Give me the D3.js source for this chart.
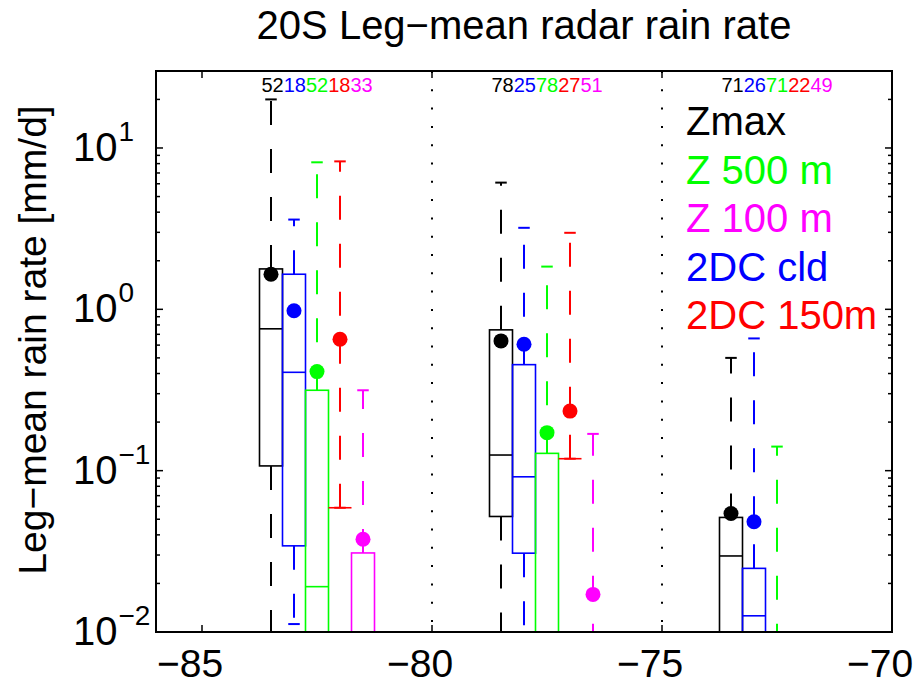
<!DOCTYPE html>
<html>
<head>
    <title>20S Leg-mean radar rain rate</title>
    <script src="https://d3js.org/d3.v7.min.js"></script>
    <style>
        body {
            margin: 0;
            background: #fff;
        }
        svg {
            display: block;
            font-family: "Liberation Sans", Arial, Helvetica, sans-serif;
        }
        .frame {
            fill: none;
            stroke: #000;
            stroke-width: 2px;
        }
        .tick-mark {
            stroke: #000;
            stroke-width: 1.5px;
        }
    </style>
</head>
<body>
<div id="chart"></div>
<script>
    // groups along longitude, one box per series in each group
    const groupLon = [-82.5, -77.5, -72.5];
    const seriesNames = ["Zmax", "2DC cld", "Z 500 m", "2DC 150m", "Z 100 m"];
    const seriesColors = ["#000000", "#0000ff", "#00ff00", "#ff0000", "#ff00ff"];
    const legendOrder = ["Zmax", "Z 500 m", "Z 100 m", "2DC cld", "2DC 150m"];
    const xTicks = [-85, -80, -75, -70];
    const yTicks = [0.01, 0.1, 1, 10];
    const yTickExp = ["\u22122", "\u22121", "0", "1"];

    // number of legs, [group][series]
    const counts = [
        [52, 18, 52, 18, 33],
        [78, 25, 78, 27, 51],
        [71, 26, 71, 22, 49]
    ];

    // box stats, [series][group]  (values under 0.01 fall below the axis)
    const whiskerHigh = [
        [20, 6.1, 0.5],
        [3.6, 3.2, 0.66],
        [8.15, 1.84, 0.141],
        [8.26, 2.98, 0.008],
        [0.315, 0.169, 0.007]
    ];
    const q3 = [
        [1.78, 0.746, 0.0513],
        [1.65, 0.454, 0.0248],
        [0.315, 0.128, 0.008],
        [0.0589, 0.1186, 0.005],
        [0.0309, 0.008, 0.005]
    ];
    const median = [
        [0.757, 0.125, 0.0296],
        [0.407, 0.0916, 0.0126],
        [0.0191, 0.008, 0.005],
        [0.0589, 0.1186, 0.005],
        [0.007, 0.005, 0.004]
    ];
    const q1 = [
        [0.107, 0.052, 0.008],
        [0.0342, 0.0308, 0.007],
        [0.006, 0.005, 0.003],
        [0.0589, 0.1186, 0.005],
        [0.004, 0.003, 0.002]
    ];
    const whiskerLow = [
        [0.003, 0.004, 0.003],
        [0.0112, 0.004, 0.003],
        [0.002, 0.002, 0.001],
        [0.0589, 0.1186, 0.005],
        [0.001, 0.001, 0.001]
    ];
    const meanRate = [
        [1.65, 0.637, 0.0543],
        [0.979, 0.608, 0.0482],
        [0.411, 0.172, 0.009],
        [0.653, 0.234, 0.006],
        [0.0376, 0.0171, 0.005]
    ];

    const width = 915, height = 684;
    const plotLeft = 156, plotRight = 892, plotTop = 71, plotBottom = 632;

    const svg = d3.select("#chart").append("svg")
        .attr("width", width)
        .attr("height", height);

    const x = d3.scaleLinear().domain([-86, -70]).range([plotLeft, plotRight]);
    const y = d3.scaleLog().domain([0.01, 30]).range([plotBottom, plotTop]);

    svg.append("clipPath").attr("id", "plot-clip")
        .append("rect")
        .attr("x", plotLeft).attr("y", plotTop)
        .attr("width", plotRight - plotLeft).attr("height", plotBottom - plotTop);

    // dotted separators
    svg.append("g").selectAll("line")
        .data([-80, -75])
        .join("line")
        .attr("x1", d => x(d)).attr("x2", d => x(d))
        .attr("y1", plotTop).attr("y2", plotBottom)
        .attr("stroke", "#000")
        .attr("stroke-width", 2)
        .attr("stroke-dasharray", "2,16.3");

    const plot = svg.append("g").attr("clip-path", "url(#plot-clip)");

    const boxW = 0.5, capW = 0.25, dash = "24,24";

    seriesNames.forEach((name, s) => {
        const color = seriesColors[s];
        const g = plot.append("g").attr("class", "series");
        groupLon.forEach((lon, k) => {
            const cx = lon + (s - 2) * 0.5;
            const px = x(cx);
            // whiskers are drawn from the box outward
            g.append("line")
                .attr("x1", px).attr("x2", px)
                .attr("y1", y(q3[s][k])).attr("y2", y(whiskerHigh[s][k]))
                .attr("stroke", color).attr("stroke-width", 2)
                .attr("stroke-dasharray", dash);
            g.append("line")
                .attr("x1", px).attr("x2", px)
                .attr("y1", y(q1[s][k])).attr("y2", y(whiskerLow[s][k]))
                .attr("stroke", color).attr("stroke-width", 2)
                .attr("stroke-dasharray", dash);
            [whiskerHigh[s][k], whiskerLow[s][k]].forEach(v => {
                g.append("line")
                    .attr("x1", x(cx - capW / 2)).attr("x2", x(cx + capW / 2))
                    .attr("y1", y(v)).attr("y2", y(v))
                    .attr("stroke", color).attr("stroke-width", 2);
            });
            g.append("rect")
                .attr("x", x(cx - boxW / 2))
                .attr("y", y(q3[s][k]))
                .attr("width", x(cx + boxW / 2) - x(cx - boxW / 2))
                .attr("height", y(q1[s][k]) - y(q3[s][k]))
                .attr("fill", "none")
                .attr("stroke", color).attr("stroke-width", 1.6);
            g.append("line")
                .attr("x1", x(cx - boxW / 2)).attr("x2", x(cx + boxW / 2))
                .attr("y1", y(median[s][k])).attr("y2", y(median[s][k]))
                .attr("stroke", color).attr("stroke-width", 1.6);
            g.append("circle")
                .attr("cx", px).attr("cy", y(meanRate[s][k]))
                .attr("r", 7.5)
                .attr("fill", color);
        });
    });

    // frame and ticks
    svg.append("rect").attr("class", "frame")
        .attr("x", plotLeft).attr("y", plotTop)
        .attr("width", plotRight - plotLeft).attr("height", plotBottom - plotTop);

    const ticks = svg.append("g");
    xTicks.forEach(t => {
        ticks.append("line").attr("class", "tick-mark")
            .attr("x1", x(t)).attr("x2", x(t)).attr("y1", plotBottom).attr("y2", plotBottom - 7);
        ticks.append("line").attr("class", "tick-mark")
            .attr("x1", x(t)).attr("x2", x(t)).attr("y1", plotTop).attr("y2", plotTop + 7);
    });

    const minorTicks = [];
    [0.01, 0.1, 1, 10].forEach(d => {
        for (let m = 2; m <= 9; m++) {
            if (d * m < 30) minorTicks.push(d * m);
        }
    });
    yTicks.forEach(t => {
        ticks.append("line").attr("class", "tick-mark")
            .attr("x1", plotLeft).attr("x2", plotLeft + 7).attr("y1", y(t)).attr("y2", y(t));
        ticks.append("line").attr("class", "tick-mark")
            .attr("x1", plotRight).attr("x2", plotRight - 7).attr("y1", y(t)).attr("y2", y(t));
    });
    minorTicks.forEach(t => {
        ticks.append("line").attr("class", "tick-mark")
            .attr("x1", plotLeft).attr("x2", plotLeft + 4).attr("y1", y(t)).attr("y2", y(t));
        ticks.append("line").attr("class", "tick-mark")
            .attr("x1", plotRight).attr("x2", plotRight - 4).attr("y1", y(t)).attr("y2", y(t));
    });

    // tick labels (the minus sign pushes them a little left of the tick)
    xTicks.forEach(t => {
        svg.append("text")
            .attr("x", x(t) - 12)
            .attr("y", 677)
            .attr("text-anchor", "middle")
            .attr("font-size", 39)
            .text("\u2212" + Math.abs(t));
    });

    yTicks.forEach((t, i) => {
        const lab = svg.append("text")
            .attr("x", 73)
            .attr("y", y(t) + 13)
            .attr("font-size", 40);
        lab.append("tspan").text("10");
        lab.append("tspan")
            .attr("dx", 1)
            .attr("dy", -20)
            .attr("font-size", 28)
            .text(yTickExp[i]);
    });

    // title and y label
    svg.append("text")
        .attr("x", (plotLeft + plotRight) / 2)
        .attr("y", 39)
        .attr("text-anchor", "middle")
        .attr("font-size", 40)
        .text("20S Leg\u2212mean radar rain rate");

    svg.append("text")
        .attr("transform", "translate(46,340) rotate(-90)")
        .attr("text-anchor", "middle")
        .attr("font-size", 39)
        .text("Leg\u2212mean rain rate [mm/d]");

    // leg counts above each group
    groupLon.forEach((lon, k) => {
        const t = svg.append("text")
            .attr("x", x(lon))
            .attr("y", 92)
            .attr("text-anchor", "middle")
            .attr("font-size", 20);
        counts[k].forEach((c, s) => {
            t.append("tspan").attr("fill", seriesColors[s]).text(c);
        });
    });

    // legend
    legendOrder.forEach((name, i) => {
        svg.append("text")
            .attr("x", 686)
            .attr("y", 135 + i * 48.5)
            .attr("font-size", 40)
            .attr("fill", seriesColors[seriesNames.indexOf(name)])
            .text(name);
    });
</script>
</body>
</html>
